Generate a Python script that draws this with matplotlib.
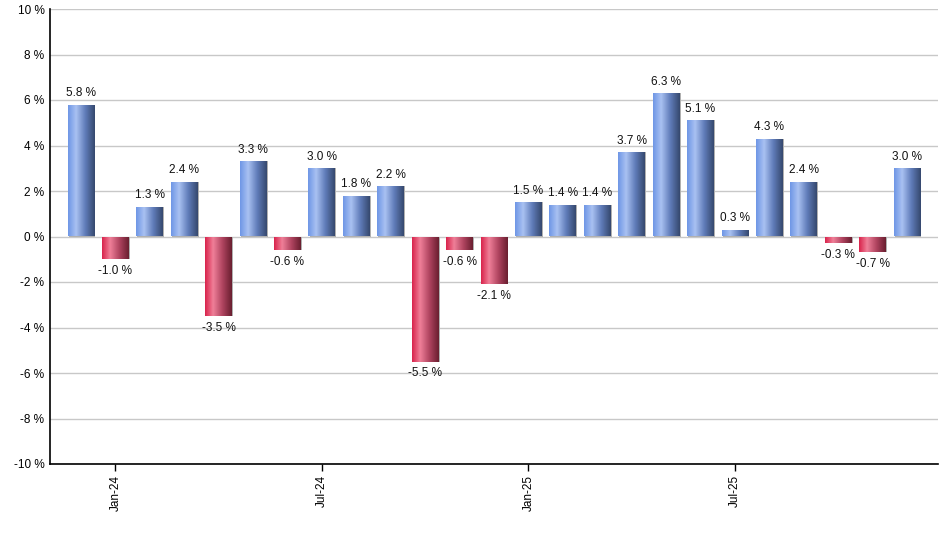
import matplotlib
matplotlib.use("Agg")
import matplotlib.pyplot as plt
import numpy as np
from matplotlib.colors import LinearSegmentedColormap

# monthly returns, Dec-23 .. Dec-25
months = ["Dec-23", "Jan-24", "Feb-24", "Mar-24", "Apr-24", "May-24", "Jun-24",
          "Jul-24", "Aug-24", "Sep-24", "Oct-24", "Nov-24", "Dec-24",
          "Jan-25", "Feb-25", "Mar-25", "Apr-25", "May-25", "Jun-25",
          "Jul-25", "Aug-25", "Sep-25", "Oct-25", "Nov-25", "Dec-25"]
returns = [5.8, -1.0, 1.3, 2.4, -3.5, 3.3, -0.6, 3.0, 1.8, 2.2, -5.5, -0.6, -2.1,
           1.5, 1.4, 1.4, 3.7, 6.3, 5.1, 0.3, 4.3, 2.4, -0.3, -0.7, 3.0]
tick_months = ["Jan-24", "Jul-24", "Jan-25", "Jul-25"]

plt.rcParams["font.family"] = ["Liberation Sans", "DejaVu Sans"]

blue_cmap = LinearSegmentedColormap.from_list(
    "blue", [(0, "#6f97e6"), (0.3, "#a9c1f2"), (0.65, "#5f7bb8"), (1, "#36496f")])
red_cmap = LinearSegmentedColormap.from_list(
    "red", [(0, "#d9244c"), (0.3, "#ef7f98"), (0.65, "#b04460"), (1, "#6a1f30")])
grad = np.linspace(0, 1, 64).reshape(1, -1)

fig = plt.figure(figsize=(9.4, 5.5), dpi=100)
ax = fig.add_axes([50 / 940, 1 - 464 / 550, 888 / 940, 455 / 550])

x = np.arange(len(returns))
width = 0.78
bars = ax.bar(x, returns, width=width, color="none", edgecolor="none", zorder=3)

for xi, val, bar in zip(x, returns, bars):
    cmap = blue_cmap if val >= 0 else red_cmap
    # thin gray shadow at right edge
    ax.bar(xi + 0.03, val, width=width, color="#b0b0b0", zorder=2)
    im = ax.imshow(grad, cmap=cmap, aspect="auto", zorder=3,
                   extent=[xi - width / 2, xi + width / 2, min(0, val), max(0, val)])
    im.set_clip_path(bar)
    off = 4 if val >= 0 else -4
    ax.annotate(f"{val:.1f} %", (xi, val), xytext=(0, off), textcoords="offset points",
                ha="center", va="bottom" if val >= 0 else "top", fontsize=8.5, color="#111111")

ax.set_xlim(-0.9, len(returns) - 0.1)
ax.set_ylim(-10, 10)
ax.set_yticks(np.arange(-10, 11, 2))
ax.set_yticklabels([f"{v} %" for v in range(-10, 11, 2)])
ax.yaxis.grid(True, color="#c8c8c8", linewidth=1, zorder=0)
ax.set_axisbelow(True)

ax.set_xticks([months.index(m) for m in tick_months])
ax.set_xticklabels(tick_months, rotation=90)
ax.tick_params(axis="x", length=5, width=1, pad=3, labelsize=8.5)
ax.tick_params(axis="y", length=0, pad=4, labelsize=8.5)

for s in ["top", "right"]:
    ax.spines[s].set_visible(False)
for s in ["left", "bottom"]:
    ax.spines[s].set_linewidth(1.2)
    ax.spines[s].set_color("black")

fig.savefig("out.png", dpi=100)
